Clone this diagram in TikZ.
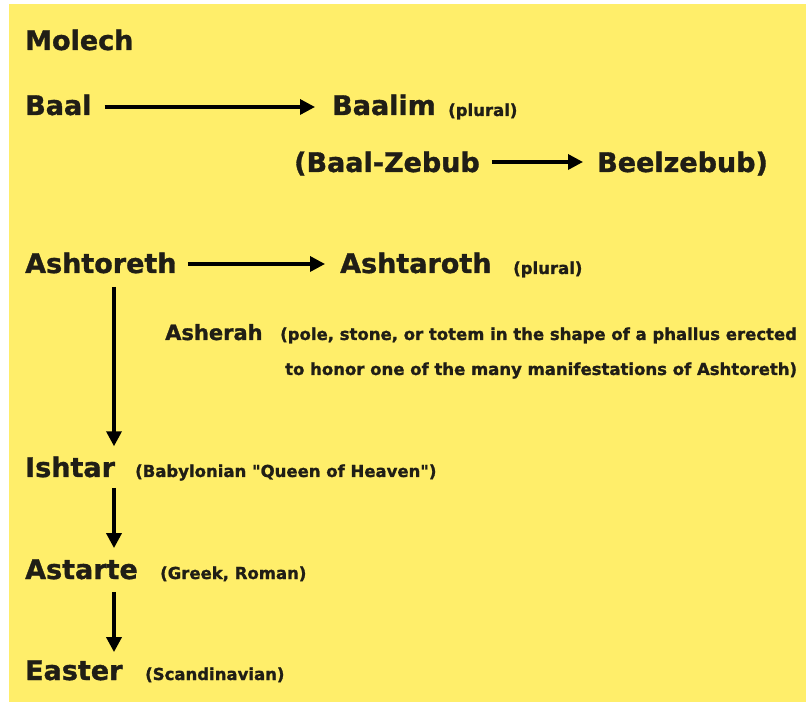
\documentclass[tikz,border=0pt]{standalone}
\usepackage{fontspec}
\newfontfamily\heavy{DejaVu Sans Bold}[FakeBold=1.2]
\usetikzlibrary{arrows.meta,calc}
\definecolor{pad}{RGB}{255,238,106}
\definecolor{ink}{RGB}{32,30,22}

\begin{document}
\begin{tikzpicture}[x=1pt,y=1pt,
        arr/.style={draw=black, line width=3.4pt, -{Triangle[length=15pt,width=15pt]}}]

        \useasboundingbox (0,0) rectangle (806,702);
        \fill[pad] (9,0) rectangle (806,698);
        \coordinate (spine) at (114,0);

        \begin{scope}[every node/.style={anchor=base west, inner sep=0pt, text=ink,
                      font=\heavy\fontsize{27}{27}\selectfont}]
          \node (molech)    at (25,652)  {Molech};
          \node (baal)      at (25,587)  {Baal};
          \node (baalim)    at (332,587) {Baalim};
          \node (baalzebub) at (294,530) {(Baal-Zebub};
          \node (beelzebub) at (597,530) {Beelzebub)};
          \node (ashtoreth) at (25,429)  {Ashtoreth};
          \node (ashtaroth) at (340,429) {Ashtaroth};
          \node (ishtar)    at (25,225)  {Ishtar};
          \node (astarte)   at (25,123)  {Astarte};
          \node (easter)    at (25,22)   {Easter};
        \end{scope}

        \begin{scope}[every node/.style={anchor=base west, inner sep=0pt, text=ink,
                      font=\heavy\fontsize{16.5}{16.5}\selectfont}]
          \node[font=\heavy\fontsize{21}{21}\selectfont] (asherah) at (165,362) {Asherah};
          \node (pluralA) at (448,586) {(plural)};
          \node (pluralB) at (513,428) {(plural)};
          \node (poleA)   at (280,362) {(pole, stone, or totem in the shape of a phallus erected};
          \node (poleB)   at (285,327) {to honor one of the many manifestations of Ashtoreth)};
          \node (ishtarnote)  at (135,225) {(Babylonian "Queen of Heaven")};
          \node (astartenote) at (160,123) {(Greek, Roman)};
          \node (easternote)  at (145,22)  {(Scandinavian)};
        \end{scope}

        \draw[arr] ([shift={(13,8)}]baal.base east) -- ([shift={(-17,8)}]baalim.base west);
        \draw[arr] ([shift={(12,10)}]baalzebub.base east) -- ([shift={(-14,10)}]beelzebub.base west);
        \draw[arr] ([shift={(11,9)}]ashtoreth.base east) -- ([shift={(-15,9)}]ashtaroth.base west);
        \draw[arr] ($(ashtoreth.base -| spine)+(0,-14)$) -- ($(ishtar.north -| spine)+(0,10)$);
        \draw[arr] ($(ishtar.base -| spine)+(0,-11)$) -- ($(astarte.north -| spine)+(0,11)$);
        \draw[arr] ($(astarte.base -| spine)+(0,-13)$) -- ($(easter.north -| spine)+(0,8)$);

      \end{tikzpicture}
\end{document}
